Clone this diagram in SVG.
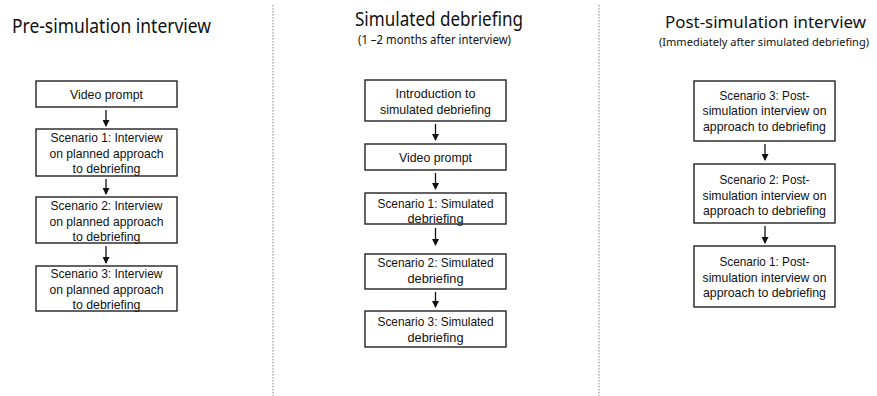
<svg xmlns="http://www.w3.org/2000/svg" width="877" height="396" viewBox="0 0 877 396">
<defs>
<marker id="ah" markerWidth="7" markerHeight="7" refX="6" refY="3.5" orient="auto" markerUnits="userSpaceOnUse" viewBox="0 0 7 7">
<path d="M0,0 L7,3.5 L0,7 Z" fill="#111"/>
</marker>
<style>
text{font-family:"Noto Sans","Open Sans","Liberation Sans",sans-serif;fill:#111}
.t{font-size:19px}
.s{font-size:12px}
.t3{font-size:17px}
.s3{font-size:11px}
.n{font-family:"Liberation Sans",Arial,sans-serif;font-size:13.5px;text-anchor:middle}
rect{fill:#fff;stroke:#222;stroke-width:1.4}
.c line{stroke:#111;stroke-width:1.3;marker-end:url(#ah)}
.d{stroke:#999;stroke-width:1.2;stroke-dasharray:1.5 1.5}
</style>
</defs>
<rect x="0" y="0" width="877" height="396" style="stroke:none;fill:#fff"/>
<line class="d" x1="273" y1="5" x2="273" y2="396"/>
<line class="d" x1="599" y1="5" x2="599" y2="396"/>

<g id="titles">
<text class="t" x="12" y="33" textLength="199" lengthAdjust="spacingAndGlyphs">Pre-simulation interview</text>
<text class="t" x="355" y="26" textLength="168" lengthAdjust="spacingAndGlyphs">Simulated debriefing</text>
<text class="s" x="358" y="44" textLength="153" lengthAdjust="spacingAndGlyphs">(1 –2 months after interview)</text>
<text class="t3" x="665" y="28" textLength="201" lengthAdjust="spacingAndGlyphs">Post-simulation interview</text>
<text class="s3" x="659" y="46" textLength="210" lengthAdjust="spacingAndGlyphs">(Immediately after simulated debriefing)</text>
</g>

<g id="c1n1"><rect x="36" y="81" width="141" height="26"/><text class="n" x="106.5" y="99" textLength="73" lengthAdjust="spacingAndGlyphs">Video prompt</text></g>
<g id="c1n2"><rect x="36" y="129" width="141" height="47"/><text class="n" x="106.5" y="142" textLength="112" lengthAdjust="spacingAndGlyphs">Scenario 1: Interview</text><text class="n" x="106.5" y="157.5" textLength="114" lengthAdjust="spacingAndGlyphs">on planned approach</text><text class="n" x="106.5" y="173" textLength="68" lengthAdjust="spacingAndGlyphs">to debriefing</text></g>
<g id="c1n3"><rect x="36" y="197" width="141" height="46"/><text class="n" x="106.5" y="210" textLength="112" lengthAdjust="spacingAndGlyphs">Scenario 2: Interview</text><text class="n" x="106.5" y="225.5" textLength="114" lengthAdjust="spacingAndGlyphs">on planned approach</text><text class="n" x="106.5" y="241" textLength="68" lengthAdjust="spacingAndGlyphs">to debriefing</text></g>
<g id="c1n4"><rect x="36" y="266" width="141" height="45"/><text class="n" x="106.5" y="278" textLength="112" lengthAdjust="spacingAndGlyphs">Scenario 3: Interview</text><text class="n" x="106.5" y="293.5" textLength="114" lengthAdjust="spacingAndGlyphs">on planned approach</text><text class="n" x="106.5" y="309" textLength="68" lengthAdjust="spacingAndGlyphs">to debriefing</text></g>

<g id="c2n1"><rect x="365" y="80" width="141" height="41"/><text class="n" x="435.5" y="97.5" textLength="80" lengthAdjust="spacingAndGlyphs">Introduction to</text><text class="n" x="435.5" y="114" textLength="111" lengthAdjust="spacingAndGlyphs">simulated debriefing</text></g>
<g id="c2n2"><rect x="365" y="144" width="141" height="26"/><text class="n" x="435.5" y="162" textLength="73" lengthAdjust="spacingAndGlyphs">Video prompt</text></g>
<g id="c2n3"><rect x="365" y="193" width="141" height="31"/><text class="n" x="435.5" y="207.5" textLength="116" lengthAdjust="spacingAndGlyphs">Scenario 1: Simulated</text><text class="n" x="435.5" y="223" textLength="56" lengthAdjust="spacingAndGlyphs">debriefing</text></g>
<g id="c2n4"><rect x="365" y="254" width="141" height="35"/><text class="n" x="435.5" y="266.5" textLength="116" lengthAdjust="spacingAndGlyphs">Scenario 2: Simulated</text><text class="n" x="435.5" y="282.5" textLength="56" lengthAdjust="spacingAndGlyphs">debriefing</text></g>
<g id="c2n5"><rect x="365" y="311" width="141" height="36"/><text class="n" x="435.5" y="326" textLength="116" lengthAdjust="spacingAndGlyphs">Scenario 3: Simulated</text><text class="n" x="435.5" y="341.5" textLength="56" lengthAdjust="spacingAndGlyphs">debriefing</text></g>

<g id="c3n1"><rect x="694" y="81" width="141" height="60"/><text class="n" x="764.5" y="99.5" textLength="90" lengthAdjust="spacingAndGlyphs">Scenario 3: Post-</text><text class="n" x="764.5" y="115" textLength="124" lengthAdjust="spacingAndGlyphs">simulation interview on</text><text class="n" x="764.5" y="130.5" textLength="123" lengthAdjust="spacingAndGlyphs">approach to debriefing</text></g>
<g id="c3n2"><rect x="694" y="164" width="141" height="59"/><text class="n" x="764.5" y="184" textLength="90" lengthAdjust="spacingAndGlyphs">Scenario 2: Post-</text><text class="n" x="764.5" y="199.5" textLength="124" lengthAdjust="spacingAndGlyphs">simulation interview on</text><text class="n" x="764.5" y="215" textLength="123" lengthAdjust="spacingAndGlyphs">approach to debriefing</text></g>
<g id="c3n3"><rect x="694" y="246" width="141" height="61"/><text class="n" x="764.5" y="266" textLength="90" lengthAdjust="spacingAndGlyphs">Scenario 1: Post-</text><text class="n" x="764.5" y="281.5" textLength="124" lengthAdjust="spacingAndGlyphs">simulation interview on</text><text class="n" x="764.5" y="297" textLength="123" lengthAdjust="spacingAndGlyphs">approach to debriefing</text></g>

<g id="connectors" class="c">
<line x1="106" y1="110" x2="106" y2="126"/>
<line x1="106" y1="179" x2="106" y2="194"/>
<line x1="106" y1="246" x2="106" y2="263"/>
<line x1="435.5" y1="124" x2="435.5" y2="140"/>
<line x1="435.5" y1="173" x2="435.5" y2="189"/>
<line x1="435.5" y1="228" x2="435.5" y2="245"/>
<line x1="435.5" y1="292" x2="435.5" y2="307"/>
<line x1="765" y1="144" x2="765" y2="160"/>
<line x1="765" y1="226" x2="765" y2="243"/>
</g>
</svg>
